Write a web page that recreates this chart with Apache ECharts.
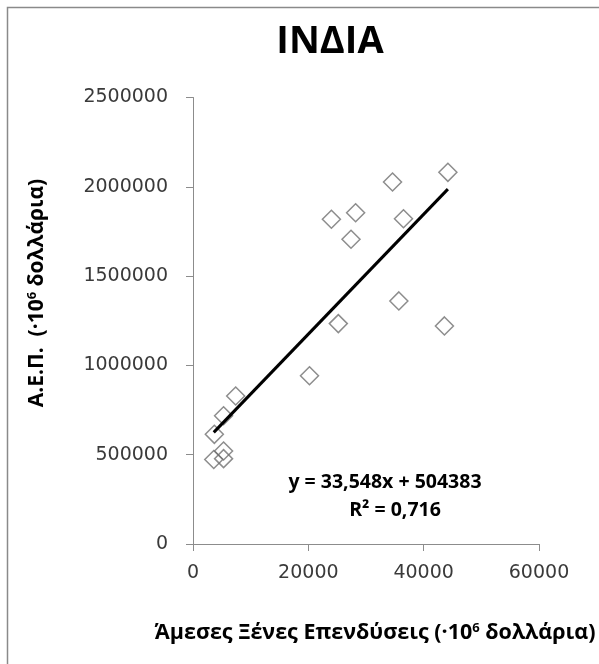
<!DOCTYPE html>
<html>
<head>
<meta charset="utf-8">
<script src="https://cdn.jsdelivr.net/npm/echarts@6/dist/echarts.min.js"></script>
<style>html,body{margin:0;padding:0;background:#fff}#c{width:599px;height:664px}</style>
</head>
<body>
<div id="c"></div>
<script>
// Data
const fdiValues = [44200, 34600, 24000, 28200, 36500, 27400, 35700, 25200, 43600, 20200, 7400, 5300, 3700, 5300, 3600, 5300];
const gdpValues = [2081000, 2027000, 1818000, 1855000, 1821000, 1706000, 1361000, 1234000, 1221000, 942000, 829000, 718000, 614000, 521000, 473000, 478000];
const xTicks = [0, 20000, 40000, 60000];
const yTicks = [0, 500000, 1000000, 1500000, 2000000, 2500000];
const trendSlope = 33.548;
const trendIntercept = 504383;
const equationText = 'y = 33,548x + 504383';
const r2Text = 'R² = 0,716';

const points = fdiValues.map((x, i) => [x, gdpValues[i]]);
const xMin = Math.min(...fdiValues), xMax = Math.max(...fdiValues);
const trendPoints = [[xMin, trendSlope * xMin + trendIntercept], [xMax, trendSlope * xMax + trendIntercept]];

const chart = echarts.init(document.getElementById('c'), null, {renderer: 'canvas'});
const labelFont = 'DejaVu Sans';
const boldFont = 'Open Sans';
const plain = v => String(v);
chart.setOption({
  animation: false,
  backgroundColor: '#fff',
  grid: {left: 193, right: 60, top: 97.5, bottom: 120, containLabel: false},
  xAxis: {
    type: 'value', min: xTicks[0], max: xTicks[xTicks.length - 1], interval: 20000,
    axisLine: {show: true, lineStyle: {color: '#8c8c8c', width: 1}},
    axisTick: {show: true, length: 7, lineStyle: {color: '#8c8c8c'}},
    splitLine: {show: false},
    axisLabel: {margin: 20, fontFamily: labelFont, fontSize: 19, color: '#3a3a3a', formatter: plain}
  },
  yAxis: {
    type: 'value', min: yTicks[0], max: yTicks[yTicks.length - 1], interval: 500000,
    axisLine: {show: true, lineStyle: {color: '#8c8c8c', width: 1}},
    axisTick: {show: true, length: 7, lineStyle: {color: '#8c8c8c'}},
    splitLine: {show: false},
    axisLabel: {margin: 25, fontFamily: labelFont, fontSize: 19, color: '#3a3a3a', formatter: plain}
  },
  series: [
    {
      type: 'scatter', data: points, symbol: 'diamond', symbolSize: 18, z: 2,
      itemStyle: {color: 'rgba(255,255,255,0)', borderColor: '#707070', borderWidth: 1.5}
    },
    {
      type: 'line', data: trendPoints, showSymbol: false, symbol: 'none', z: 3,
      lineStyle: {color: '#000', width: 3}
    }
  ],
  graphic: [
    {type: 'rect', shape: {x: 7.5, y: 7.5, width: 700, height: 700}, style: {fill: 'none', stroke: '#8a8a8a', lineWidth: 1.5}, silent: true},
    {
      type: 'text', x: 330, y: 42,
      style: {text: 'ΙΝΔΙΑ', fontFamily: boldFont, fontWeight: 'bold', fontSize: 38, fill: '#000', align: 'center', verticalAlign: 'middle'}
    },
    {
      type: 'text', x: 37, y: 293, rotation: Math.PI / 2,
      style: {
        text: 'Α.Ε.Π.  (·10{s|6} δολλάρια)',
        fontFamily: boldFont, fontWeight: 'bold', fontSize: 21, fill: '#000',
        align: 'center', verticalAlign: 'middle',
        rich: {s: {fontFamily: boldFont, fontWeight: 'bold', fontSize: 13, verticalAlign: 'top', padding: [0, 0, 9, 0]}}
      }
    },
    {
      type: 'text', x: 375, y: 633,
      style: {
        text: 'Άμεσες Ξένες Επενδύσεις (·10{s|6} δολλάρια)',
        fontFamily: boldFont, fontWeight: 'bold', fontSize: 21.5, fill: '#000',
        align: 'center', verticalAlign: 'middle',
        rich: {s: {fontFamily: boldFont, fontWeight: 'bold', fontSize: 13, verticalAlign: 'top', padding: [0, 0, 9, 0]}}
      }
    },
    {
      type: 'text', x: 385, y: 482,
      style: {text: equationText, fontFamily: boldFont, fontWeight: 'bold', fontSize: 19.5, fill: '#000', align: 'center', verticalAlign: 'middle'}
    },
    {
      type: 'text', x: 395, y: 510,
      style: {text: r2Text, fontFamily: boldFont, fontWeight: 'bold', fontSize: 19.5, fill: '#000', align: 'center', verticalAlign: 'middle'}
    }
  ]
});
</script>
</body>
</html>
